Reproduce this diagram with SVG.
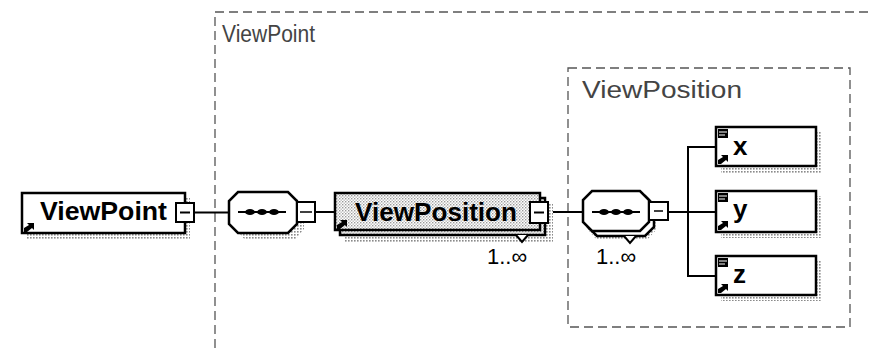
<svg xmlns="http://www.w3.org/2000/svg" width="870" height="348" viewBox="0 0 870 348">
<defs>
<pattern id="dots" width="3" height="3" patternUnits="userSpaceOnUse"><rect width="3" height="3" fill="#fff"/><rect width="1.6" height="1.6" fill="#8a8a8a"/></pattern>
<pattern id="stip" width="3" height="3" patternUnits="userSpaceOnUse"><rect width="3" height="3" fill="#fff"/><rect width="1.4" height="1.4" fill="#9a9a9a"/><rect x="1.5" y="1.5" width="1.4" height="1.4" fill="#bbb"/></pattern>
<symbol id="ref" viewBox="0 0 10 10" width="10" height="10"><path d="M0 10 V6 L5 3 L3 1 H10 V8 L8 6 L3 10 Z" fill="#000"/></symbol>
<symbol id="attr" viewBox="0 0 10 9" width="10" height="9"><rect width="10" height="9" fill="#000"/><path d="M1 3 H9 M1 6 H7" stroke="#fff" stroke-width="1"/></symbol>
</defs>
<style>
.box{fill:#fff;stroke:#000;stroke-width:2.5}
.sbox{fill:url(#stip);stroke:#000;stroke-width:2.5}
.shadow{fill:url(#dots);stroke:none}
.grp{fill:none;stroke:#555;stroke-width:1.3;stroke-dasharray:9 5}
.conn{fill:none;stroke:#000;stroke-width:2}
.sq{fill:#fff;stroke:#000;stroke-width:2}
.lbl{font-family:"Liberation Sans",Arial,sans-serif;font-weight:bold;font-size:26px;fill:#000}
.glbl{font-family:"Liberation Sans",Arial,sans-serif;font-size:23px;fill:#444}
.card{font-family:"Liberation Sans",Arial,sans-serif;font-size:22px;fill:#000}
</style>

<g id="group-ViewPoint">
<path class="grp" d="M215 348 V12 H870"/>
<text class="glbl" x="222" y="42" textLength="93" lengthAdjust="spacingAndGlyphs">ViewPoint</text>
</g>
<g id="group-ViewPosition">
<rect class="grp" x="568" y="68" width="282" height="259"/>
<text class="glbl" x="582" y="98" font-size="24" textLength="160" lengthAdjust="spacingAndGlyphs">ViewPosition</text>
</g>

<g id="connectors">
<path class="conn" d="M194 212.5 H229"/>
<path class="conn" d="M315 212 H335"/>
<path class="conn" d="M548 212 H583"/>
<path class="conn" d="M668 212 H717"/>
<path class="conn" d="M717 147 H688 V276 H717"/>
</g>

<g id="node-ViewPoint">
<rect class="shadow" x="27" y="198" width="163" height="42"/>
<rect class="box" x="22" y="193" width="163" height="40"/>
<rect class="sq" x="176" y="203" width="18" height="19"/>
<path d="M180 212.5 H190" stroke="#000" stroke-width="2"/>
<use href="#ref" x="24" y="222"/>
<text class="lbl" x="40" y="220" textLength="127" lengthAdjust="spacingAndGlyphs">ViewPoint</text>
</g>

<g id="node-sequence1">
<polygon class="shadow" points="245,197 295,197 304,206 304,229 295,240 245,240 236,229 236,206"/>
<polygon class="box" points="238,192 288,192 297,201 297,224 288,233 238,233 229,224 229,201"/>
<rect class="sq" x="297" y="202" width="18" height="20"/>
<path d="M300 212 H312" stroke="#000" stroke-width="1.5"/>
<path d="M238 212 H286" stroke="#000" stroke-width="2"/>
<ellipse cx="250" cy="212" rx="5" ry="3"/>
<ellipse cx="262" cy="212" rx="5" ry="3"/>
<ellipse cx="274" cy="212" rx="5" ry="3"/>
</g>

<g id="node-ViewPosition">
<rect class="shadow" x="345" y="203" width="208" height="40"/>
<rect class="sbox" x="340" y="198" width="205" height="37"/>
<path d="M516 235 L522 242 L528 235" fill="#fff" stroke="#000" stroke-width="2"/>
<rect class="sbox" x="335" y="193" width="205" height="37"/>
<rect class="sq" x="530" y="202" width="18" height="21"/>
<path d="M534 212.5 H544" stroke="#000" stroke-width="2"/>
<use href="#ref" x="337" y="219"/>
<text class="lbl" x="355" y="221" textLength="162" lengthAdjust="spacingAndGlyphs">ViewPosition</text>
<text class="card" x="487" y="264">1..∞</text>
</g>

<g id="node-sequence2">
<polygon class="shadow" points="597,199 647,199 656,208 656,230 647,240 597,240 588,230 588,208"/>
<polygon class="box" points="597,196 645,196 654,205 654,227 645,236 597,236 588,227 588,205"/>
<path d="M624 236 L630 243 L636 236" fill="#fff" stroke="#000" stroke-width="2"/>
<polygon class="box" points="592,191 640,191 649,200 649,222 640,231 592,231 583,222 583,200"/>
<rect class="sq" x="649" y="202" width="19" height="18"/>
<path d="M654 211 H663" stroke="#000" stroke-width="1.5"/>
<path d="M592 212 H640" stroke="#000" stroke-width="2"/>
<ellipse cx="604" cy="212" rx="5" ry="3"/>
<ellipse cx="616" cy="212" rx="5" ry="3"/>
<ellipse cx="628" cy="212" rx="5" ry="3"/>
<text class="card" x="596" y="264">1..∞</text>
</g>

<g id="node-x">
<rect class="shadow" x="721" y="132" width="100" height="41"/>
<rect class="box" x="716" y="127" width="100" height="39"/>
<use href="#attr" x="718" y="129"/>
<use href="#ref" x="718" y="154"/>
<text class="lbl" x="733" y="155">x</text>
</g>
<g id="node-y">
<rect class="shadow" x="721" y="196" width="100" height="42"/>
<rect class="box" x="716" y="191" width="100" height="41"/>
<use href="#attr" x="718" y="193"/>
<use href="#ref" x="718" y="220"/>
<text class="lbl" x="733" y="218">y</text>
</g>
<g id="node-z">
<rect class="shadow" x="721" y="261" width="100" height="40"/>
<rect class="box" x="716" y="256" width="100" height="39"/>
<use href="#attr" x="718" y="258"/>
<use href="#ref" x="718" y="283"/>
<text class="lbl" x="733" y="283">z</text>
</g>
</svg>
